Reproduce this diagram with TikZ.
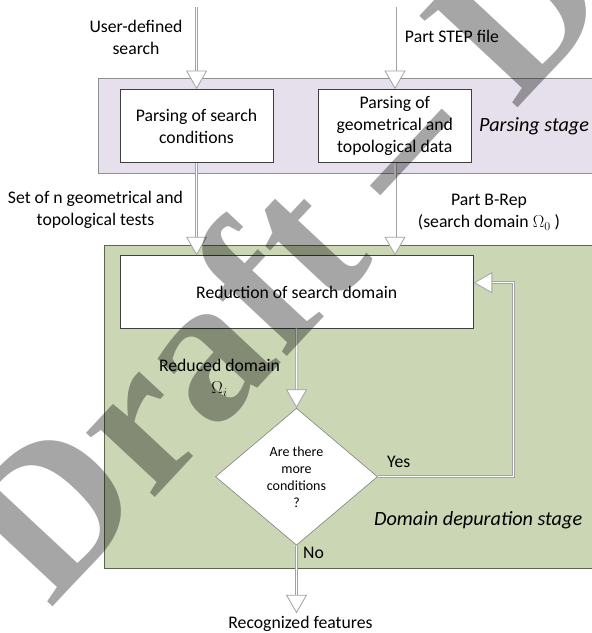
\documentclass[tikz,border=0pt]{standalone}
\usepackage{fontspec}
\setmainfont{Carlito}
\newfontfamily\draftfont{Liberation Serif}
\usetikzlibrary{arrows.meta, shapes.geometric, positioning}

\definecolor{parsefill}{HTML}{E6E0EC}
\definecolor{parseline}{HTML}{8F8F8F}
\definecolor{domainfill}{HTML}{CAD6B4}
\definecolor{domainline}{HTML}{5E6650}
\definecolor{boxline}{HTML}{3F3F3F}
\definecolor{flowline}{HTML}{A3A3A3}

\newcommand{\mainsize}{\fontsize{17.7}{22}\selectfont}
\newcommand{\stagesize}{\fontsize{20.2}{24}\selectfont}
\newcommand{\asksize}{\fontsize{14}{17}\selectfont}

\tikzset{
  stageband/.style={draw=#1, line width=0.9pt},
  stepbox/.style={draw=boxline, fill=white, line width=0.8pt, inner sep=0pt,
    minimum height=73pt, align=center, font=\mainsize},
  askbox/.style={diamond, draw=gray, fill=white, line width=0.6pt, inner sep=0pt,
    minimum width=162pt, minimum height=137pt, align=center, font=\asksize},
  note/.style={align=center, font=\mainsize, inner sep=0pt},
  stagename/.style={anchor=west, font=\stagesize\itshape, inner sep=0pt},
  flow/.style={draw=flowline, line width=0.8pt, double=white, double distance=1.4pt,
    -{Triangle[open, fill=white, line width'=0.8pt, length=18.5pt, width=21pt]}},
}

\begin{document}
\begin{tikzpicture}[x=1pt, y=-1pt]
  \clip (0,0) rectangle (592,633);
  \fill[white] (0,0) rectangle (592,633);
  % Stages
  \draw[stageband=parseline, fill=parsefill] (98.3,78.3) rectangle (610,173.3);
  \draw[stageband=domainline, fill=domainfill] (104.3,245.7) rectangle (610,568.3);
  \node[stagename] (parsestage) at (479,126.7) {Parsing stage};
  \node[stagename] (domainstage) at (374,520.7) {Domain depuration stage};
  % Nodes
  \node[stepbox, minimum width=153pt] (parsecond) at (196.5,126) {Parsing of search\\conditions};
  \node[stepbox, minimum width=153.7pt] (parsegeom) at (394.8,126) {Parsing of\\geometrical and\\topological data};
  \node[stepbox, minimum width=353.3pt, minimum height=72.6pt] (reduce) at (296.7,292) {Reduction of search domain};
  \node[askbox] (ask) at (296.5,476.7) {Are there\\more\\conditions\\?};
  % Texts
  \node[note] (usersearch) at (136,37) {User-defined\\search};
  \node[note] (stepfile) at (452,36.7) {Part STEP file};
  \node[note] (tests) at (95.5,210) {Set of n geometrical and\\topological tests};
  \node[note] (brep) at (489,212.5) {Part B-Rep\\(search domain $\Omega_0$ )};
  \node[note] (reduced) at (219.5,378) {Reduced domain\\$\Omega_i$};
  \node[note, anchor=west] (yes) at (387,462) {Yes};
  \node[note, anchor=west] (no) at (303,553) {No};
  \node[note] (features) at (300.5,624) {Recognized features};
  \coordinate (userin) at (196.6,7);
  \coordinate (stepin) at (395,7);
  \coordinate (loopup) at (513.3,282.7);
  \coordinate (out) at (296.5,613.3);
  % Arrows
  \draw[flow] (userin) -- (userin |- parsecond.north);
  \draw[flow] (stepin) -- (stepin |- parsegeom.north);
  \draw[flow] (userin |- parsecond.south) -- (userin |- reduce.north);
  \draw[flow] (stepin |- parsegeom.south) -- (stepin |- reduce.north);
  \draw[flow] (reduce.south) -- (ask.north);
  \draw[flow] (ask.east) -| (loopup) -- (loopup -| reduce.east);
  \draw[flow] (ask.south) -- (out);
  % Watermark
  \begin{scope}[blend mode=multiply]
    \node[font=\draftfont\bfseries\fontsize{205}{205}\selectfont, text=black!35, rotate=47,
      anchor=base west, inner sep=0pt] (draftmark) at (50,610) {Draft – Draft};
  \end{scope}
\end{tikzpicture}
\end{document}
